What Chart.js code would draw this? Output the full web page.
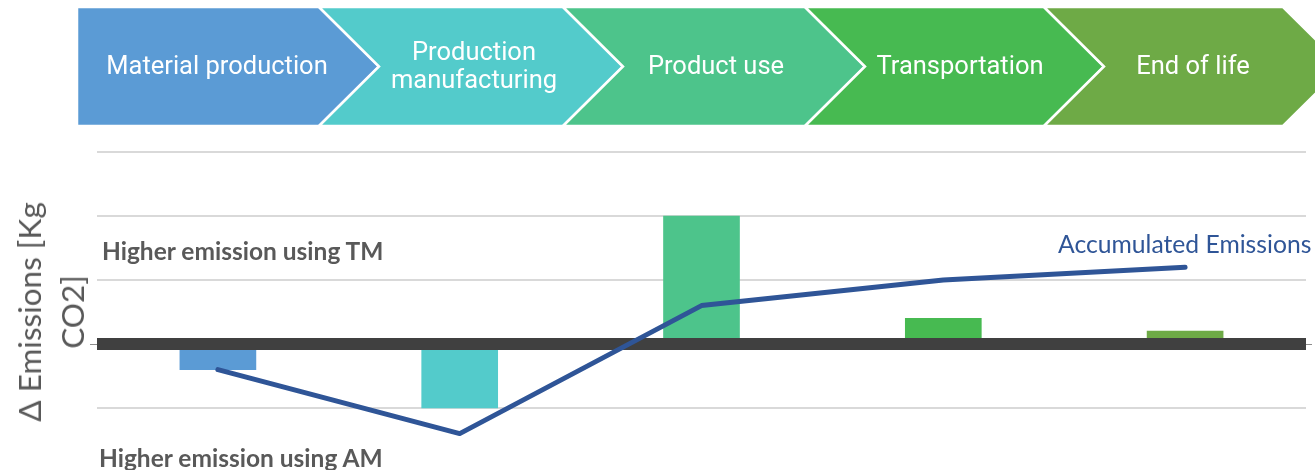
<!DOCTYPE html>
<html>
<head>
<meta charset="utf-8">
<script src="https://cdn.jsdelivr.net/npm/chart.js@4/dist/chart.umd.min.js"></script>
<style>
  html, body { margin: 0; padding: 0; background: #fff; }
  #wrap { position: relative; width: 1315px; height: 470px; overflow: hidden; }
  #chart { position: absolute; left: 0; top: 0; }
  .lbl { position: absolute; white-space: nowrap; }
  .stage { color: #fff; font-family: Roboto, sans-serif; font-size: 25.5px; line-height: 28px;
           text-align: center; transform: translate(-50%, -50%); }
  .note { font-family: Lato, sans-serif; font-weight: bold; font-size: 24.5px; color: #595959;
          transform: translateY(-50%); }
  .series { font-family: Lato, sans-serif; font-size: 24.7px; color: #2F5597; transform: translateY(-50%); }
  .ytitle { font-family: Lato, sans-serif; font-size: 31.5px; line-height: 43px; color: #595959;
            text-align: center; transform: translate(-50%, -50%) rotate(-90deg); }
</style>
</head>
<body>
<div id="wrap">
  <canvas id="chart" width="1315" height="470"></canvas>
</div>
<script>
// Life-cycle stages shown in the header and along the x axis
const stages = ['Material production', 'Production manufacturing', 'Product use', 'Transportation', 'End of life'];
const stageLines = [['Material production'], ['Production', 'manufacturing'], ['Product use'], ['Transportation'], ['End of life']];
const stageColors = ['#5B9BD5', '#53CBCB', '#4DC48B', '#47BA51', '#6EAA46'];

// Emission difference per stage and running total
const deltaEmissions = [-0.4, -1.0, 2.0, 0.4, 0.2];
const accumulatedEmissions = [-0.4, -1.4, 0.6, 1.0, 1.2];

// Horizontal gridline positions
const gridTicks = [-1, 0, 1, 2, 3];

// Header arrow geometry (canvas px)
const arrowLeft = 77, arrowTop = 7, arrowBottom = 126, arrowDepth = 60;
const arrowEnds = [319, 563, 805, 1044, 1283];
const stageTextX = [217, 474, 716, 960, 1193];

const wrap = document.getElementById('wrap');
stageLines.forEach((lines, i) => {
  const d = document.createElement('div');
  d.className = 'lbl stage';
  d.style.left = stageTextX[i] + 'px';
  d.style.top = ((arrowTop + arrowBottom) / 2 - 1.5) + 'px';
  d.innerHTML = lines.join('<br>');
  wrap.appendChild(d);
});
function addLabel(cls, text, x, y) {
  const d = document.createElement('div');
  d.className = 'lbl ' + cls;
  d.style.left = x + 'px';
  d.style.top = y + 'px';
  d.innerHTML = text;
  wrap.appendChild(d);
}
addLabel('note', 'Higher emission using TM', 102, 250);
addLabel('note', 'Higher emission using AM', 99, 457);
addLabel('series', 'Accumulated Emissions', 1058, 243);
addLabel('ytitle', '&Delta; Emissions [Kg<br>CO2]', 51, 312);

// Draws the chevron arrows of the header
const headerArrows = {
  id: 'headerArrows',
  beforeDraw(chart) {
    const ctx = chart.ctx;
    const mid = (arrowTop + arrowBottom) / 2;
    ctx.save();
    arrowEnds.forEach((end, i) => {
      const start = i === 0 ? arrowLeft : arrowEnds[i - 1];
      ctx.beginPath();
      ctx.moveTo(start, arrowTop);
      ctx.lineTo(end, arrowTop);
      ctx.lineTo(end + arrowDepth, mid);
      ctx.lineTo(end, arrowBottom);
      ctx.lineTo(start, arrowBottom);
      if (i > 0) ctx.lineTo(start + arrowDepth, mid);
      ctx.closePath();
      ctx.fillStyle = stageColors[i];
      ctx.fill();
      ctx.lineWidth = 2.5;
      ctx.strokeStyle = '#ffffff';
      ctx.stroke();
    });
    ctx.restore();
  }
};

// Thick baseline at zero, painted over the bars and under the line
const zeroBand = {
  id: 'zeroBand',
  afterDatasetDraw(chart, args) {
    if (args.meta.type !== 'bar') return;
    const ctx = chart.ctx;
    const area = chart.chartArea;
    const y0 = chart.scales.y.getPixelForValue(0);
    ctx.save();
    ctx.fillStyle = '#404040';
    ctx.fillRect(area.left, y0 - 6, area.right - area.left, 12);
    ctx.strokeStyle = '#8c8c8c';
    ctx.lineWidth = 1;
    ctx.beginPath();
    ctx.moveTo(area.left - 7, y0 + 0.5);
    ctx.lineTo(area.left, y0 + 0.5);
    ctx.moveTo(area.right, y0 + 0.5);
    ctx.lineTo(area.right + 6, y0 + 0.5);
    ctx.stroke();
    ctx.restore();
  }
};

new Chart(document.getElementById('chart'), {
  data: {
    labels: stages,
    datasets: [
      {
        type: 'line',
        label: 'Accumulated Emissions',
        data: accumulatedEmissions,
        borderColor: '#2F5597',
        borderWidth: 5,
        borderCapStyle: 'round',
        borderJoinStyle: 'round',
        pointRadius: 0,
        tension: 0,
        fill: false
      },
      {
        type: 'bar',
        label: 'Δ Emissions',
        data: deltaEmissions,
        backgroundColor: stageColors,
        borderWidth: 0,
        barThickness: 76
      }
    ]
  },
  options: {
    responsive: false,
    animation: false,
    layout: { padding: { top: 152, left: 97, right: 9, bottom: 30 } },
    plugins: { legend: { display: false }, tooltip: { enabled: false } },
    scales: {
      x: { display: false, offset: true },
      y: {
        min: -1.5,
        max: 3,
        afterBuildTicks(scale) { scale.ticks = gridTicks.map(v => ({ value: v })); },
        afterFit(scale) { scale.width = 0; },
        ticks: { display: false },
        border: { display: false },
        grid: {
          drawTicks: false,
          lineWidth: 2,
          color: c => (c.tick && c.tick.value === 0) ? 'rgba(0,0,0,0)' : '#D9D9D9'
        }
      }
    }
  },
  plugins: [headerArrows, zeroBand]
});
</script>
</body>
</html>
